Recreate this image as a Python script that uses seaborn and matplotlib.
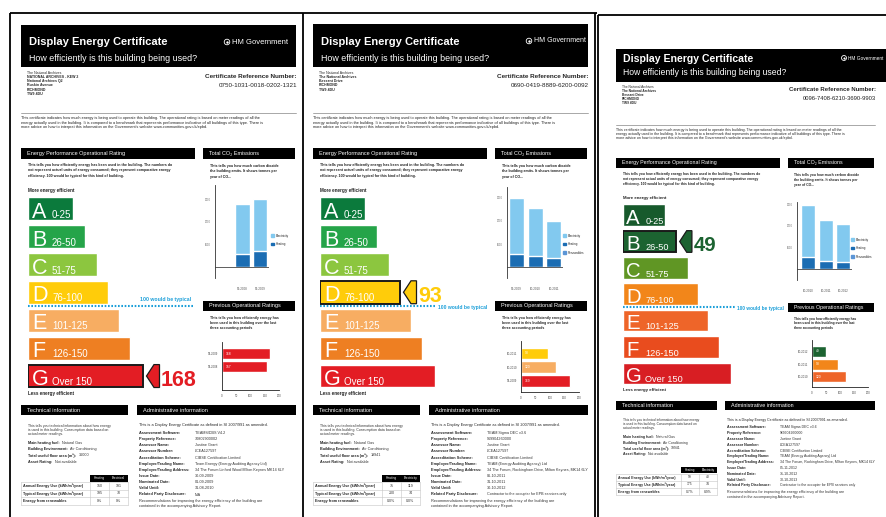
import matplotlib
matplotlib.use("Agg")
import matplotlib.pyplot as plt
from matplotlib.patches import Rectangle, Polygon, Patch
from matplotlib import font_manager
import seaborn as sns
import pandas as pd

sns.set_style("white")
plt.rcParams["font.family"] = ["Liberation Sans", "DejaVu Sans"]


def has_font(name):
    try:
        font_manager.findfont(font_manager.FontProperties(family=name), fallback_to_default=False)
        return True
    except Exception:
        return False


NARROW = "Liberation Sans Narrow" if has_font("Liberation Sans Narrow") else None

# ------------------------------------------------------------------ data
BANDS = ["A", "B", "C", "D", "E", "F", "G"]
BAND_RANGES = ["0-25", "26-50", "51-75", "76-100", "101-125", "126-150", "Over 150"]
BAND_LENGTHS = [45, 57, 69, 80, 91, 102, 115]
BAND_COLORS = ["#0b7a3c", "#25a449", "#8cc63f", "#ffcc0a", "#f7ad62", "#ee7f22", "#e31d24"]
BAND_COLORS_PHOTO = ["#175a2c", "#1c6331", "#609624", "#f2861a", "#ee6529", "#e94c1e", "#d81e23"]
ELEC = "#82c9ef"
HEAT = "#1b6db3"
RENEW = "#5b95d6"

ADDRESS_1 = ["The National Archives", "NATIONAL ARCHIVES - KEW 2", "National Archives Q2",
             "Ruskin Avenue", "RICHMOND", "TW9 4DU"]
ADDRESS_2 = ["The National Archives", "The National Archives", "Bessant Drive", "RICHMOND", "TW9 4DU"]
ADDRESS_3 = ["The National Archives", "The National Archives", "Bessant Drive", "RICHMOND", "TW9 4DU"]

REF_1 = "0750-1031-0018-0202-1321"
REF_2 = "0690-0419-8889-6200-0092"
REF_3 = "0096-7408-6210-3690-9903"

RATING_1 = 168
RATING_2 = 93
RATING_3 = 49

CO2_PERIODS_1 = ["09-2008", "09-2009"]
CO2_HEATING_1 = [560, 700]
CO2_ELECTRICITY_1 = [2220, 2300]
CO2_PERIODS_2 = ["09-2009", "10-2010", "10-2011"]
CO2_HEATING_2 = [565, 480, 390]
CO2_ELECTRICITY_2 = [2435, 2090, 1610]
CO2_PERIODS_3 = ["10-2010", "10-2011", "10-2012"]
CO2_HEATING_3 = [560, 370, 330]
CO2_ELECTRICITY_3 = [2420, 1910, 1760]

PREV_PERIODS_1 = ["09-2009", "09-2008"]
PREV_RATINGS_1 = [168, 157]
PREV_PERIODS_2 = ["10-2011", "10-2010", "09-2009"]
PREV_RATINGS_2 = [93, 120, 169]
PREV_PERIODS_3 = ["10-2012", "10-2011", "10-2010"]
PREV_RATINGS_3 = [49, 93, 120]

TECH_LABELS = ["Main heating fuel:", "Building Environment:", "Total useful floor area (m²):", "Asset Rating:"]
TECH_1 = ["Natural Gas", "Air Conditioning", "36000", "Not available"]
TECH_2 = ["Natural Gas", "Air Conditioning", "19941", "Not available"]
TECH_3 = ["Natural Gas", "Air Conditioning", "19941", "Not available"]

USE_ROWS = ["Annual Energy Use (kWh/m²/year)", "Typical Energy Use (kWh/m²/year)", "Energy from renewables"]
USE_1 = [["150", "191"], ["195", "70"], ["0%", "0%"]]
USE_2 = [["75", "119"], ["200", "74"], ["0.0%", "0.0%"]]
USE_3 = [["59", "40"], ["175", "74"], ["0.7%", "8.9%"]]
USE_HEAD_1 = ["Heating", "Electrical"]
USE_HEAD_2 = ["Heating", "Electricity"]

ADMIN_LABELS = ["Assessment Software:", "Property Reference:", "Assessor Name:", "Assessor Number:",
                "Accreditation Scheme:", "Employer/Trading Name:", "Employer/Trading Address:",
                "Issue Date:", "Nominated Date:", "Valid Until:", "Related Party Disclosure:"]
ADMIN_1 = ["TEAMS/DBS V4.2", "70802900002", "Justine Grant", "LCEA127597", "CIBSE Certification Limited",
           "Team Energy (Energy Auditing Agency Ltd)", "34 The Forum Linford Wood Milton Keynes MK14 6LY",
           "30-09-2009", "01-09-2009", "31-08-2010", "N/A"]
ADMIN_2 = ["TEAM Sigma DEC v3.6", "969904260000", "Justine Grant", "LCEA127597", "CIBSE Certification Limited",
           "TEAM (Energy Auditing Agency) Ltd", "34 The Forum, Rockingham Drive, Milton Keynes, MK14 6LY",
           "06-10-2011", "31-10-2011", "30-10-2012", "Contractor to the occupier for EPB services only"]
ADMIN_3 = ["TEAM Sigma DEC v3.6", "969904260000", "Justine Grant", "LCEA127597", "CIBSE Certification Limited",
           "TEAM (Energy Auditing Agency) Ltd", "34 The Forum, Rockingham Drive, Milton Keynes, MK14 6LY",
           "05-11-2012", "31-10-2012", "30-10-2013", "Contractor to the occupier for EPB services only"]

INTRO = ["This certificate indicates how much energy is being used to operate this building. The operational rating is based on meter readings of all the",
         "energy actually used in the building. It is compared to a benchmark that represents performance indicative of all buildings of this type. There is",
         "more advice on how to interpret this information on the Government's website www.communities.gov.uk/epbd."]
EPR_TEXT = ["This tells you how efficiently energy has been used in the building. The numbers do",
            "not represent actual units of energy consumed; they represent comparative energy",
            "efficiency. 100 would be typical for this kind of building."]
CO2_TEXT = ["This tells you how much carbon dioxide", "the building emits. It shows tonnes per", "year of CO₂."]
PREV_TEXT = ["This tells you how efficiently energy has", "been used in this building over the last",
             "three accounting periods"]
TECH_TEXT = ["This tells you technical information about how energy",
             "is used in this building. Consumption data based on", "actual meter readings."]
ADMIN_INTRO = "This is a Display Energy Certificate as defined in SI 2007/991 as amended."
ADMIN_REC = ["Recommendations for improving the energy efficiency of the building are",
             "contained in the accompanying Advisory Report."]

CERTS = [
    dict(address=ADDRESS_1, ref=REF_1, rating=RATING_1, co2_periods=CO2_PERIODS_1, co2_heating=CO2_HEATING_1,
         co2_elec=CO2_ELECTRICITY_1, prev_periods=PREV_PERIODS_1, prev=PREV_RATINGS_1, tech=TECH_1,
         use=USE_1, use_head=USE_HEAD_1, admin=ADMIN_1, renew=False),
    dict(address=ADDRESS_2, ref=REF_2, rating=RATING_2, co2_periods=CO2_PERIODS_2, co2_heating=CO2_HEATING_2,
         co2_elec=CO2_ELECTRICITY_2, prev_periods=PREV_PERIODS_2, prev=PREV_RATINGS_2, tech=TECH_2,
         use=USE_2, use_head=USE_HEAD_2, admin=ADMIN_2, renew=True),
    dict(address=ADDRESS_3, ref=REF_3, rating=RATING_3, co2_periods=CO2_PERIODS_3, co2_heating=CO2_HEATING_3,
         co2_elec=CO2_ELECTRICITY_3, prev_periods=PREV_PERIODS_3, prev=PREV_RATINGS_3, tech=TECH_3,
         use=USE_3, use_head=USE_HEAD_2, admin=ADMIN_3, renew=True),
]

# ------------------------------------------------------------------ layout
W, H = 887, 517
LAYOUTS = [
    dict(tf=(0, 0, 1, 1), colors=BAND_COLORS, header=(21, 25, 296, 67), title=(29, 45, 8.0),
         subtitle=(29, 61, 6.4), hm=(232, 42, 5.5), crest=(227, 42, 1.0),
         co2_box=(215, 185, 269, 278), co2_xlim=(-1.51, 1.5), co2_ylim=(-489, 3644), co2_w=0.83,
         co2_legend=(271, 233.5), prev_box=(222, 342, 279, 390), typical=("above", 165)),
    dict(tf=(292, 0, 1, 1), colors=BAND_COLORS, header=(313, 24, 588, 67), title=(321, 45, 8.0),
         subtitle=(321, 61, 6.4), hm=(534, 41, 5.0), crest=(529, 41, 1.0),
         co2_box=(507, 187, 563, 278), co2_xlim=(-0.51, 2.5), co2_ylim=(-478, 3478), co2_w=0.81,
         co2_legend=(563, 233.5), prev_box=(521, 341, 579, 392), typical=("inline", 112)),
    dict(tf=(596.2, 18.1, 0.943, 0.945), colors=BAND_COLORS_PHOTO, header=(616, 49, 887, 82),
         title=(623, 62.5, 7.6), subtitle=(623, 75, 6.2), hm=(848, 58, 3.4), crest=(844, 58, 0.8),
         co2_box=(797, 202, 852, 280), co2_xlim=(-0.63, 2.5), co2_ylim=(-512, 3116), co2_w=0.8,
         co2_legend=(851, 237.5), prev_box=(812, 340, 868, 387), typical=("inline", 115)),
]

fig = plt.figure(figsize=(W / 100, H / 100), dpi=100, facecolor="white")
bg = fig.add_axes([0, 0, 1, 1])
bg.set_xlim(0, W)
bg.set_ylim(H, 0)
bg.axis("off")


def add_ax(x0, y0, x1, y1):
    a = fig.add_axes([x0 / W, 1 - y1 / H, (x1 - x0) / W, (y1 - y0) / H])
    a.patch.set_alpha(0)
    return a


def rating_band(v):
    return min(6, max(0, (int(v) - 1) // 25))


def black_bar(x0, y0, x1, y1, text, fs):
    bg.add_patch(Rectangle((x0, y0), x1 - x0, y1 - y0, color="black", lw=0))
    bg.text(x0 + 6, (y0 + y1) / 2, text, color="white", fontsize=fs, va="center", ha="left")


def draw_cert(c, lay):
    ox, oy, sx, sy = lay["tf"]
    X = lambda x: ox + sx * x
    Y = lambda y: oy + sy * y
    f = lambda s: s * sy
    colors = lay["colors"]
    pal = dict(zip(BANDS, colors))

    # header
    x0, y0, x1, y1 = lay["header"]
    bg.add_patch(Rectangle((x0, y0), x1 - x0, y1 - y0, color="black", lw=0))
    tx, ty, tfs = lay["title"]
    bg.text(tx, ty, "Display Energy Certificate", color="white", fontsize=tfs, fontweight="bold", va="baseline")
    stx, sty, sfs = lay["subtitle"]
    bg.text(stx, sty, "How efficiently is this building being used?", color="white", fontsize=sfs, va="baseline")
    hx, hy, hfs = lay["hm"]
    bg.text(hx, hy, "HM Government", color="white", fontsize=hfs, va="center", ha="left")
    cx, cy, cs = lay["crest"]
    bg.scatter([cx], [cy], s=16 * cs, facecolor="none", edgecolor="white", linewidth=0.6)
    bg.scatter([cx], [cy], s=3 * cs, color="white", linewidth=0)

    # address + reference
    for i, line in enumerate(c["address"]):
        bg.text(X(27), Y(72.5 + 4.3 * i), line, fontsize=f(2.5), va="center",
                fontweight="normal" if i == 0 else "bold")
    bg.text(X(297), Y(76), "Certificate Reference Number:", fontsize=f(4.6), fontweight="bold",
            ha="right", va="center")
    bg.text(X(297), Y(85.5), c["ref"], fontsize=f(4.5), ha="right", va="center", color="#222222")
    bg.plot([X(21), X(296)], [Y(113), Y(113)], color="#9a9a9a", lw=0.6)
    for i, line in enumerate(INTRO):
        bg.text(X(21), Y(118 + 4.7 * i), line, fontsize=f(2.8), va="center", color="#222222")

    # section headers
    black_bar(X(21), Y(148), X(195), Y(158.5), "Energy Performance Operational Rating", f(4.0))
    black_bar(X(203), Y(148), X(295), Y(158.5), "Total CO₂ Emissions", f(4.0))
    for i, line in enumerate(EPR_TEXT):
        bg.text(X(28), Y(165 + 5.4 * i), line, fontsize=f(2.6), va="center", fontweight="bold", color="#222222")
    for i, line in enumerate(CO2_TEXT):
        bg.text(X(210), Y(166 + 5.4 * i), line, fontsize=f(2.6), va="center", fontweight="bold", color="#222222")
    bg.text(X(28), Y(190.5), "More energy efficient", fontsize=f(3.3), fontweight="bold", va="center")
    bg.text(X(28), Y(393.5), "Less energy efficient", fontsize=f(3.3), fontweight="bold", va="center")

    # rating bands
    ax = add_ax(X(28), Y(194.5), X(198), Y(390))
    df = pd.DataFrame({"band": BANDS, "length": BAND_LENGTHS})
    sns.barplot(data=df, x="length", y="band", hue="band", palette=pal, legend=False, orient="h",
                width=0.82, saturation=1, errorbar=None, ax=ax)
    ax.set_xlim(0, 170)
    ax.set_ylim(6.5, -0.5)
    ax.axis("off")
    for i, (b, r) in enumerate(zip(BANDS, BAND_RANGES)):
        ax.text(4, i + 0.33, b, color="white", fontsize=f(15.5), va="baseline", ha="left")
        ax.text(24, i + 0.33, r, color="white", fontsize=f(7.0), va="baseline", ha="left")
    idx = rating_band(c["rating"])
    bar = ax.patches[idx]
    bar.set_edgecolor("#1a1a1a")
    bar.set_linewidth(1.4)
    L = BAND_LENGTHS[idx]
    hh = 0.41
    ax.add_patch(Polygon([(L + 3.5, idx), (L + 11, idx - hh), (L + 16.5, idx - hh),
                          (L + 16.5, idx + hh), (L + 11, idx + hh)], closed=True,
                         facecolor=colors[idx], edgecolor="#1a1a1a", lw=0.9, clip_on=False))
    if NARROW:
        nkw = dict(family=[NARROW, "DejaVu Sans"], fontsize=f(18.5))
    else:
        nkw = dict(fontsize=f(15.5))
    ax.text(L + 18, idx + 0.36, str(c["rating"]), color=colors[idx], fontweight="bold",
            va="baseline", ha="left", clip_on=False, **nkw)
    mode, end = lay["typical"]
    if mode == "above":
        ax.plot([0, end], [3.5, 3.5], color="#1b9fd9", lw=1.5, ls=(0, (0.8, 0.8)), clip_on=False)
        ax.text(end - 2, 3.27, "100 would be typical", color="#1b9fd9", fontsize=f(3.7),
                fontweight="bold", ha="right", va="center")
    else:
        ax.plot([0, end + 4], [3.5, 3.5], color="#1b9fd9", lw=1.5, ls=(0, (0.8, 0.8)), clip_on=False)
        ax.text(end + 6, 3.55, "100 would be typical", color="#1b9fd9", fontsize=f(3.6),
                fontweight="bold", ha="left", va="center")

    # CO2 chart
    ax = add_ax(*lay["co2_box"])
    cdf = pd.DataFrame({"period": c["co2_periods"], "heating": c["co2_heating"], "electricity": c["co2_elec"]})
    cdf["total"] = cdf["heating"] + cdf["electricity"]
    sns.barplot(data=cdf, x="period", y="total", color=ELEC, saturation=1, width=lay["co2_w"],
                errorbar=None, ax=ax)
    sns.barplot(data=cdf, x="period", y="heating", color=HEAT, saturation=1, width=lay["co2_w"],
                errorbar=None, ax=ax)
    ax.set_xlim(*lay["co2_xlim"])
    ax.set_ylim(*lay["co2_ylim"])
    ax.axhline(0, color="#444444", lw=0.6)
    ax.set_yticks([1000, 2000, 3000])
    ax.set_yticklabels(["1000", "2000", "3000"])
    ax.tick_params(axis="y", length=0, pad=3, labelsize=1.9, labelcolor="#666666")
    ax.tick_params(axis="x", length=0, pad=6.5, labelsize=2.2, labelcolor="#555555")
    ax.set_xlabel("")
    ax.set_ylabel("")
    for s in ["top", "right", "bottom"]:
        ax.spines[s].set_visible(False)
    ax.spines["left"].set_color("#333333")
    ax.spines["left"].set_linewidth(0.6)
    handles = [Patch(color=ELEC, label="Electricity"), Patch(color=HEAT, label="Heating")]
    if c["renew"]:
        handles.append(Patch(color=RENEW, label="Renewables"))
    ax.legend(handles=handles, loc="upper left", bbox_to_anchor=lay["co2_legend"],
              bbox_transform=bg.transData, fontsize=2.2, frameon=False, handlelength=0.9,
              handleheight=0.9, handletextpad=0.5, labelspacing=1.5, borderpad=0, borderaxespad=0)

    # previous ratings
    black_bar(X(203), Y(301), X(295), Y(311), "Previous Operational Ratings", f(4.0))
    for i, line in enumerate(PREV_TEXT):
        bg.text(X(210), Y(318 + 5 * i), line, fontsize=f(2.5), va="center", fontweight="bold", color="#222222")
    ax = add_ax(*lay["prev_box"])
    pdf = pd.DataFrame({"period": c["prev_periods"], "rating": c["prev"]})
    pdf["band"] = [BANDS[rating_band(v)] for v in pdf["rating"]]
    sns.barplot(data=pdf, x="rating", y="period", hue="band", palette=pal, dodge=False, legend=False,
                orient="h", width=0.85, saturation=1, errorbar=None, ax=ax)
    ax.set_xlim(0, 200)
    ax.set_ylim(2.8, -0.9)
    ax.set_xticks([0, 50, 100, 150, 200])
    ax.tick_params(axis="x", length=1.2, width=0.4, pad=1.5, labelsize=2.0, labelcolor="#444444")
    ax.tick_params(axis="y", length=0, pad=3, labelsize=2.0, labelcolor="#444444")
    ax.set_xlabel("")
    ax.set_ylabel("")
    for s in ["top", "right"]:
        ax.spines[s].set_visible(False)
    for s in ["left", "bottom"]:
        ax.spines[s].set_color("#222222")
        ax.spines[s].set_linewidth(0.6)
    for i, v in enumerate(c["prev"]):
        ax.annotate(str(v), xy=(0, i), xytext=(3, 0), textcoords="offset points", color="white",
                    fontsize=2.4, va="center", ha="left")

    # technical information
    black_bar(X(21), Y(405), X(128), Y(415), "Technical information", f(4.1))
    for i, line in enumerate(TECH_TEXT):
        bg.text(X(28), Y(425.5 + 4.3 * i), line, fontsize=f(2.5), va="center", color="#333333")
    for i, (lab, val) in enumerate(zip(TECH_LABELS, c["tech"])):
        t = bg.text(X(28), Y(443 + 6.2 * i), lab, fontsize=f(2.7), fontweight="bold", va="center")
        bg.annotate(val, xy=(1, 0.5), xycoords=t, xytext=(1.8, 0), textcoords="offset points",
                    fontsize=f(2.7), va="center", ha="left", color="#333333")
    # table
    cols = [(90, 109), (109, 128)]
    for (a, b), name in zip(cols, c["use_head"]):
        bg.add_patch(Rectangle((X(a), Y(475)), X(b) - X(a), Y(481.8) - Y(475), color="black", lw=0))
        bg.text((X(a) + X(b)) / 2, Y(478.4), name, color="white", fontsize=f(2.3), ha="center", va="center")
    edges = [482, 489.7, 497.3, 505]
    for e in edges:
        bg.plot([X(21), X(128)], [Y(e), Y(e)], color="#c4c4c4", lw=0.4)
    for xv in [21, 90, 109, 128]:
        bg.plot([X(xv), X(xv)], [Y(482), Y(505)], color="#c4c4c4", lw=0.4)
    for r, (lab, vals) in enumerate(zip(USE_ROWS, c["use"])):
        yc = (edges[r] + edges[r + 1]) / 2
        bg.text(X(23), Y(yc), lab, fontsize=f(2.7), fontweight="bold", va="center")
        for (a, b), v in zip(cols, vals):
            bg.text((X(a) + X(b)) / 2, Y(yc), v, fontsize=f(2.6), ha="center", va="center", color="#333333")

    # administrative information
    black_bar(X(137), Y(405), X(296), Y(415), "Administrative information", f(4.1))
    bg.text(X(139), Y(425), ADMIN_INTRO, fontsize=f(2.8), va="center", color="#222222")
    for i, (lab, val) in enumerate(zip(ADMIN_LABELS, c["admin"])):
        yy = Y(433 + 6.15 * i)
        bg.text(X(139), yy, lab, fontsize=f(2.8), fontweight="bold", va="center")
        bg.text(X(195), yy, val, fontsize=f(2.7), va="center", color="#333333")
    for i, line in enumerate(ADMIN_REC):
        bg.text(X(139), Y(501 + 5.5 * i), line, fontsize=f(2.8), va="center", color="#333333")


for cert, lay in zip(CERTS, LAYOUTS):
    draw_cert(cert, lay)

# page frames
frame = dict(color="black", lw=1.3, solid_capstyle="butt")
bg.plot([10, 597], [13, 13], **frame)
bg.plot([598, 887], [15, 15], **frame)
for xv, top in [(10, 13), (303, 13), (595, 13), (598.5, 15)]:
    bg.plot([xv, xv], [top, H], **frame)

fig.savefig("out.png", dpi=100, facecolor="white")
